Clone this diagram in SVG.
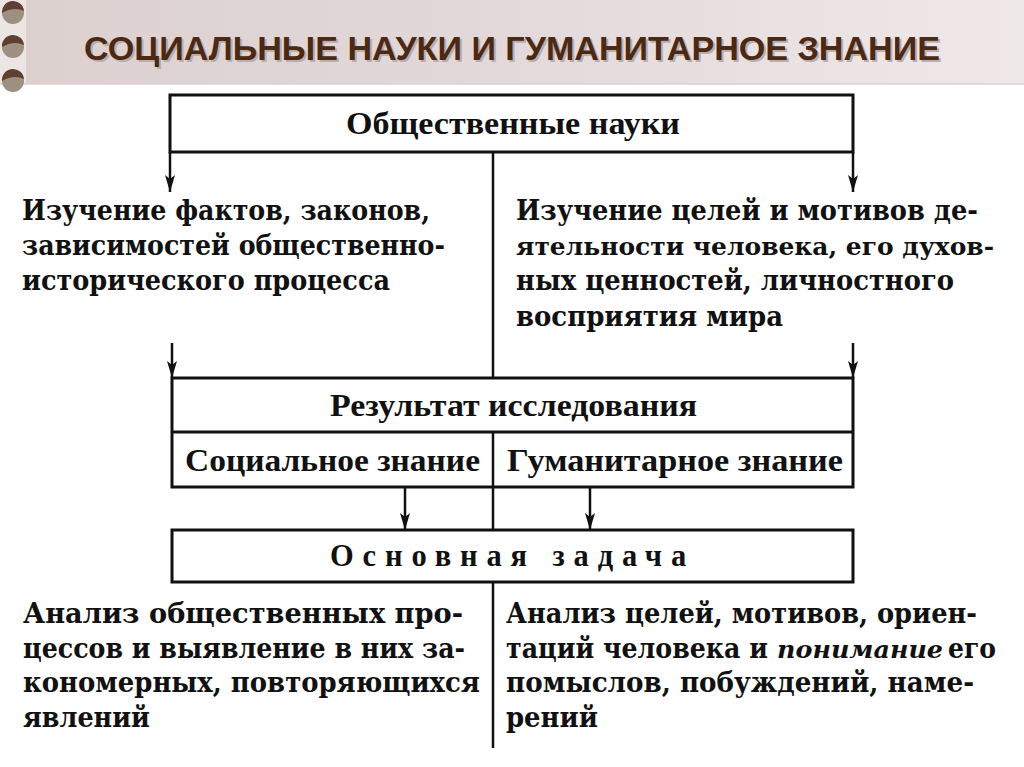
<svg xmlns="http://www.w3.org/2000/svg" width="1024" height="767" viewBox="0 0 1024 767">
<defs>
<style>
.box{fill:#fff;stroke:#111;stroke-width:3}
.ln{stroke:#111;stroke-width:2.5;fill:none}
.lbl{font-family:"Liberation Serif","DejaVu Serif",serif;font-weight:bold;font-size:31px;fill:#111}
.txt{font-family:"DejaVu Serif","Liberation Serif",serif;font-weight:bold;font-size:27px;fill:#111}
.ttl{font-family:"Liberation Sans",Arial,sans-serif;font-weight:bold;font-size:34px}
</style>
<marker id="ah" markerUnits="userSpaceOnUse" markerWidth="18" markerHeight="10" refX="17" refY="5" orient="auto" viewBox="0 0 18 10">
<path d="M0,0 L17,5 L0,10 L4,5 Z" fill="#111"/>
</marker>
<linearGradient id="hdr" x1="0" y1="0" x2="1" y2="0">
<stop offset="0" stop-color="#dcd0cf"/>
<stop offset="0.5" stop-color="#e3d9da"/>
<stop offset="1" stop-color="#efe8e9"/>
</linearGradient>
</defs>
<rect x="0" y="0" width="1024" height="767" fill="#ffffff"/>
<g id="header">
<rect x="0" y="0" width="1024" height="84" fill="url(#hdr)"/>
<rect x="0" y="0" width="26" height="84" fill="#ebe5e4"/>
<line x1="0" y1="84" x2="1024" y2="84" stroke="#d8d0d0" stroke-width="1.5"/>
<g>
<circle cx="13" cy="13" r="11" fill="#9e9080"/>
<path d="M2,13 A11,11 0 0 1 24,11 Q14,6 2,13 Z" fill="#5e3f30"/>
<circle cx="13" cy="47" r="11" fill="#9e9080"/>
<path d="M2,47 A11,11 0 0 1 24,45 Q14,40 2,47 Z" fill="#5e3f30"/>
<circle cx="13" cy="81" r="11" fill="#9e9080"/>
<path d="M2,81 A11,11 0 0 1 24,79 Q14,74 2,81 Z" fill="#5e3f30"/>
</g>
<text class="ttl" x="84" y="60" textLength="856" lengthAdjust="spacingAndGlyphs" fill="#b8aeae" transform="translate(2,2)">СОЦИАЛЬНЫЕ НАУКИ И ГУМАНИТАРНОЕ ЗНАНИЕ</text>
<text class="ttl" x="84" y="60" textLength="856" lengthAdjust="spacingAndGlyphs" fill="#4c2912">СОЦИАЛЬНЫЕ НАУКИ И ГУМАНИТАРНОЕ ЗНАНИЕ</text>
</g>
<g id="connectors">
<line class="ln" x1="170" y1="152" x2="170" y2="192" marker-end="url(#ah)"/>
<line class="ln" x1="853" y1="152" x2="853" y2="192" marker-end="url(#ah)"/>
<line class="ln" x1="493" y1="152" x2="493" y2="378"/>
<line class="ln" x1="172" y1="343" x2="172" y2="378" marker-end="url(#ah)"/>
<line class="ln" x1="853" y1="343" x2="853" y2="378" marker-end="url(#ah)"/>
<line class="ln" x1="405" y1="487" x2="405" y2="530" marker-end="url(#ah)"/>
<line class="ln" x1="590" y1="487" x2="590" y2="530" marker-end="url(#ah)"/>
<line class="ln" x1="493" y1="487" x2="493" y2="530"/>
<line class="ln" x1="493" y1="582" x2="493" y2="748"/>
</g>
<g id="node-obshch">
<rect class="box" x="170" y="95" width="683" height="57"/>
<text class="lbl" x="346" y="134" textLength="334" lengthAdjust="spacingAndGlyphs">Общественные науки</text>
</g>
<g id="text-left-top">
<text class="txt" x="22" y="220" textLength="408" lengthAdjust="spacingAndGlyphs">Изучение фактов, законов,</text>
<text class="txt" x="22" y="255" textLength="423" lengthAdjust="spacingAndGlyphs">зависимостей общественно-</text>
<text class="txt" x="22" y="290" textLength="368" lengthAdjust="spacingAndGlyphs">исторического процесса</text>
</g>
<g id="text-right-top">
<text class="txt" x="516" y="220" textLength="462" lengthAdjust="spacingAndGlyphs">Изучение целей и мотивов де-</text>
<text class="txt" x="516" y="255" textLength="478" lengthAdjust="spacingAndGlyphs" style="font-size:25px">ятельности человека, его духов-</text>
<text class="txt" x="516" y="290" textLength="438" lengthAdjust="spacingAndGlyphs">ных ценностей, личностного</text>
<text class="txt" x="516" y="326" textLength="267" lengthAdjust="spacingAndGlyphs">восприятия мира</text>
</g>
<g id="node-result">
<rect class="box" x="172" y="378" width="681" height="109"/>
<line class="ln" x1="172" y1="432" x2="853" y2="432" style="stroke-width:3"/>
<line class="ln" x1="493" y1="432" x2="493" y2="487"/>
<text class="lbl" x="330" y="416" textLength="367" lengthAdjust="spacingAndGlyphs">Результат исследования</text>
</g>
<g id="node-social">
<text class="lbl" x="185" y="471" textLength="295" lengthAdjust="spacingAndGlyphs">Социальное знание</text>
</g>
<g id="node-human">
<text class="lbl" x="507" y="471" textLength="336" lengthAdjust="spacingAndGlyphs">Гуманитарное знание</text>
</g>
<g id="node-task">
<rect class="box" x="172" y="530" width="681" height="52"/>
<text class="lbl" x="330" y="566" letter-spacing="9" textLength="365" lengthAdjust="spacingAndGlyphs">Основная задача</text>
</g>
<g id="text-left-bottom">
<text class="txt" x="23" y="623" textLength="440" lengthAdjust="spacingAndGlyphs">Анализ общественных про-</text>
<text class="txt" x="23" y="658" textLength="442" lengthAdjust="spacingAndGlyphs">цессов и выявление в них за-</text>
<text class="txt" x="23" y="692" textLength="457" lengthAdjust="spacingAndGlyphs">кономерных, повторяющихся</text>
<text class="txt" x="23" y="727" textLength="127" lengthAdjust="spacingAndGlyphs">явлений</text>
</g>
<g id="text-right-bottom">
<text class="txt" x="506" y="623" textLength="471" lengthAdjust="spacingAndGlyphs">Анализ целей, мотивов, ориен-</text>
<text class="txt" x="506" y="658" textLength="262" lengthAdjust="spacingAndGlyphs">таций человека и</text>
<text class="txt" x="777" y="658" textLength="166" lengthAdjust="spacingAndGlyphs" font-style="italic" style="font-size:24px">понимание</text>
<text class="txt" x="948" y="658" textLength="48" lengthAdjust="spacingAndGlyphs">его</text>
<text class="txt" x="506" y="692" textLength="468" lengthAdjust="spacingAndGlyphs">помыслов, побуждений, наме-</text>
<text class="txt" x="506" y="727" textLength="92" lengthAdjust="spacingAndGlyphs">рений</text>
</g>
</svg>
